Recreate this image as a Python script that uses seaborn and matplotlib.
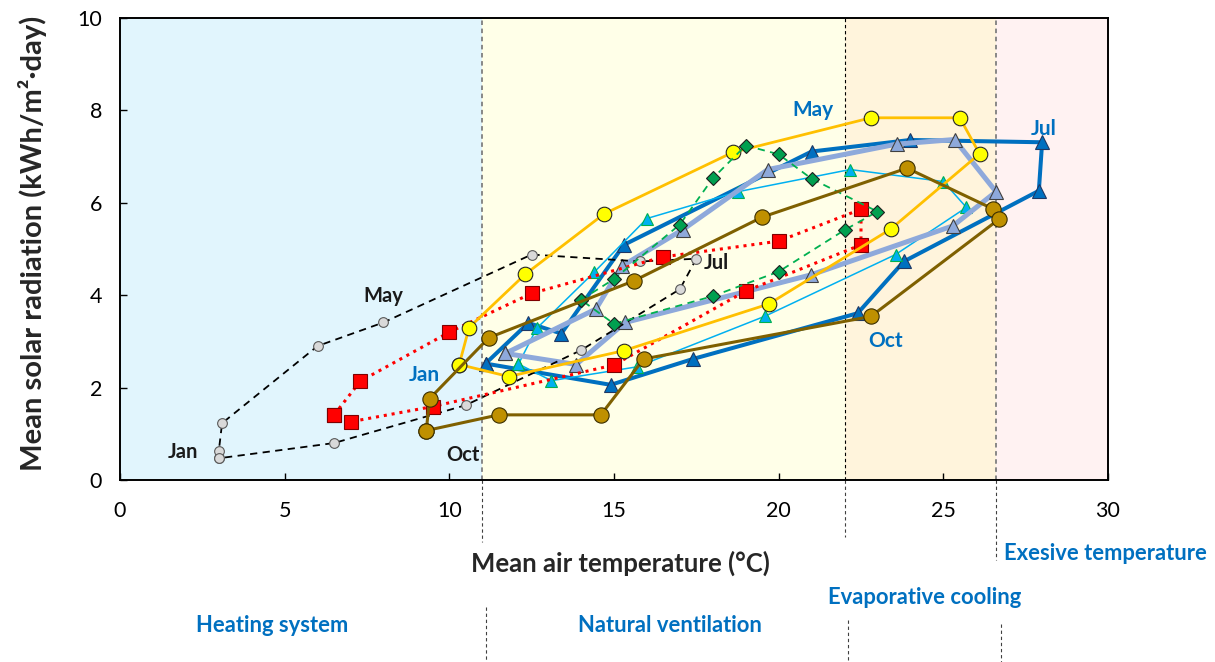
import matplotlib
matplotlib.use("Agg")
import matplotlib.pyplot as plt
import matplotlib.transforms as mtransforms
import seaborn as sns

# ---------------- data ----------------
gray_t = [3.0, 3.0, 3.1, 6.0, 8.0, 12.5, 15.8, 17.5, 17.0, 14.0, 10.5, 6.5]
gray_r = [0.47, 0.63, 1.23, 2.90, 3.41, 4.88, 4.73, 4.79, 4.13, 2.81, 1.62, 0.80]

red_t = [6.5, 7.3, 10.0, 12.5, 16.5, 20.0, 22.5, 22.5, 19.0, 15.0, 9.5, 7.0]
red_r = [1.41, 2.14, 3.20, 4.04, 4.83, 5.17, 5.86, 5.09, 4.09, 2.49, 1.59, 1.26]

green_t = [14.0, 15.0, 17.0, 18.0, 19.0, 20.0, 21.0, 23.0, 22.0, 20.0, 18.0, 15.0]
green_r = [3.90, 4.35, 5.53, 6.53, 7.24, 7.05, 6.52, 5.81, 5.41, 4.51, 3.98, 3.38]

yellow_t = [10.3, 10.6, 12.3, 14.7, 18.6, 22.8, 25.5, 26.1, 23.4, 19.7, 15.3, 11.8]
yellow_r = [2.50, 3.30, 4.45, 5.76, 7.09, 7.84, 7.84, 7.06, 5.43, 3.81, 2.80, 2.24]

brown_t = [9.3, 9.4, 11.2, 15.6, 19.5, 23.9, 26.5, 26.7, 22.8, 15.9, 14.6, 11.5]
brown_r = [1.07, 1.76, 3.08, 4.31, 5.69, 6.75, 5.87, 5.65, 3.54, 2.62, 1.41, 1.41]

blue_t = [11.1, 12.4, 13.4, 15.3, 21.0, 24.0, 28.0, 27.9, 23.8, 22.4, 17.4, 14.9]
blue_r = [2.52, 3.40, 3.17, 5.09, 7.11, 7.36, 7.31, 6.26, 4.73, 3.61, 2.62, 2.06]

cyan_t = [12.1, 12.65, 14.4, 16.0, 18.76, 22.17, 25.0, 25.7, 23.55, 19.6, 15.7, 13.1]
cyan_r = [2.51, 3.28, 4.50, 5.66, 6.24, 6.72, 6.46, 5.90, 4.88, 3.55, 2.45, 2.15]

lav_t = [11.7, 14.45, 15.24, 17.09, 19.67, 23.58, 25.34, 26.6, 25.29, 20.98, 15.34, 13.85]
lav_r = [2.74, 3.70, 4.63, 5.42, 6.72, 7.27, 7.37, 6.24, 5.50, 4.44, 3.41, 2.50]

zone_edges = [0, 11, 22, 26.6, 30]
zone_colors = ["#E1F5FD", "#FFFFE8", "#FFF4DC", "#FFF2F2"]
zone_names = ["Heating system", "Natural ventilation", "Evaporative cooling", "Exesive temperature"]

x_ticks = [0, 5, 10, 15, 20, 25, 30]
y_ticks = [0, 2, 4, 6, 8, 10]

# ---------------- style ----------------
sns.set_style("white")
plt.rcParams['font.family'] = ['Lato', 'DejaVu Sans']

fig = plt.figure(figsize=(12.15, 6.62), dpi=100)
ax = fig.add_axes([120 / 1215, 1 - 480 / 662, 988 / 1215, 462 / 662])

# zone backgrounds
for i, c in enumerate(zone_colors):
    ax.axvspan(zone_edges[i], zone_edges[i + 1], color=c, zorder=0, lw=0)
ax.axvline(zone_edges[1], color="#7F7F7F", ls=(0, (2.5, 2)), lw=1.3, zorder=1)
ax.axvline(zone_edges[2], color="#000000", ls=(0, (3, 2.5)), lw=0.8, zorder=1)
ax.axvline(zone_edges[3], color="#7F7F7F", ls=(0, (2.5, 2)), lw=1.3, zorder=1)


def loop(v):
    return list(v) + [v[0]]


series = [
    (blue_t, blue_r, dict(color="#0070C0", lw=2.9, ls="-", marker="^", ms=10,
                          mfc="#0070C0", mec="#1F3864", mew=0.8)),
    (cyan_t, cyan_r, dict(color="#00B0F0", lw=1.1, ls="-", marker="^", ms=8.5,
                          mfc="#00B0F0", mec="#00B050", mew=0.8)),
    (lav_t, lav_r, dict(color="#8EA9DB", lw=3.6, ls="-", marker="^", ms=10,
                        mfc="#8EA9DB", mec="#404040", mew=0.8)),
    (gray_t, gray_r, dict(color="#000000", lw=1.3, ls=(0, (4, 3)), marker="o", ms=7,
                          mfc="#D9D9D9", mec="#595959", mew=0.8)),
    (red_t, red_r, dict(color="#FF0000", lw=2.2, ls=(0, (1, 1.6)), marker="s", ms=9.5,
                        mfc="#FF0000", mec="#7F0000", mew=0.8)),
    (yellow_t, yellow_r, dict(color="#FFC000", lw=2.0, ls="-", marker="o", ms=10.5,
                              mfc="#FFFF00", mec="#262626", mew=0.8)),
    (green_t, green_r, dict(color="#00B050", lw=1.3, ls=(0, (4, 3)), marker="D", ms=7,
                            mfc="#00A050", mec="#1E1E1E", mew=0.8)),
    (brown_t, brown_r, dict(color="#7F6000", lw=2.2, ls="-", marker="o", ms=11,
                            mfc="#BF9000", mec="#3A2E00", mew=0.8)),
]

for i, (t, r, kw) in enumerate(series):
    sns.lineplot(x=loop(t), y=loop(r), sort=False, estimator=None, ax=ax,
                 legend=False, zorder=3 + i, **kw)

ax.set_xlim(0, 30)
ax.set_ylim(0, 10)
ax.set_xticks(x_ticks)
ax.set_yticks(y_ticks)
ax.tick_params(direction="in", length=5, width=1, labelsize=15.5, colors="#000000",
               bottom=True, left=True)
ax.tick_params(axis="x", pad=15)
ax.tick_params(axis="y", pad=13)
for s in ax.spines.values():
    s.set_color("#000000")
    s.set_linewidth(1.4)
    s.set_visible(True)

ax.set_xlabel("Mean air temperature (°C)", fontsize=18.5, fontweight="bold")
ax.xaxis.set_label_coords((620 - 120) / 988, (480 - 563) / 462)
ax.xaxis.label.set_va("center")
ax.set_ylabel("Mean solar radiation (kWh/m²·day)", fontsize=21, fontweight="bold")
ax.yaxis.set_label_coords((33 - 120) / 988, (480 - 243) / 462)
ax.yaxis.label.set_va("center")

# month annotations
black_lbl = [("Jan", 1.9, 0.6), ("May", 8.0, 3.98), ("Oct", 10.4, 0.55), ("Jul", 18.1, 4.7)]
blue_lbl = [("Jan", 9.25, 2.28), ("May", 21.05, 8.0), ("Oct", 23.25, 3.0), ("Jul", 28.05, 7.6)]
for s, x, y in black_lbl:
    ax.text(x, y, s, fontsize=14.5, fontweight="bold", color="#1A1A1A",
            ha="center", va="center", zorder=20)
for s, x, y in blue_lbl:
    ax.text(x, y, s, fontsize=15, fontweight="bold", color="#0070C0",
            ha="center", va="center", zorder=20)

# zone labels below the axes
zone_pos = [(272, 626), (670, 625), (925, 598), (1105, 553)]
for name, (px, py) in zip(zone_names, zone_pos):
    fig.text(px / 1215, 1 - py / 662, name, fontsize=15.8, fontweight="bold",
             color="#0070C0", ha="center", va="center")

# dashed separators extending below the plot
trans = mtransforms.blended_transform_factory(ax.transData, fig.transFigure)
seg_upper = [(zone_edges[1], 480, 542), (zone_edges[2], 480, 537), (zone_edges[3], 480, 560)]
seg_lower = [(11.1, 607, 662), (22.1, 620, 662), (26.75, 624, 662)]
for x, y0, y1 in seg_upper + seg_lower:
    ax.plot([x, x], [1 - y0 / 662, 1 - y1 / 662], transform=trans, clip_on=False,
            color="#404040", lw=0.8, ls=(0, (3, 2.5)))

fig.savefig("out.png", dpi=100)
